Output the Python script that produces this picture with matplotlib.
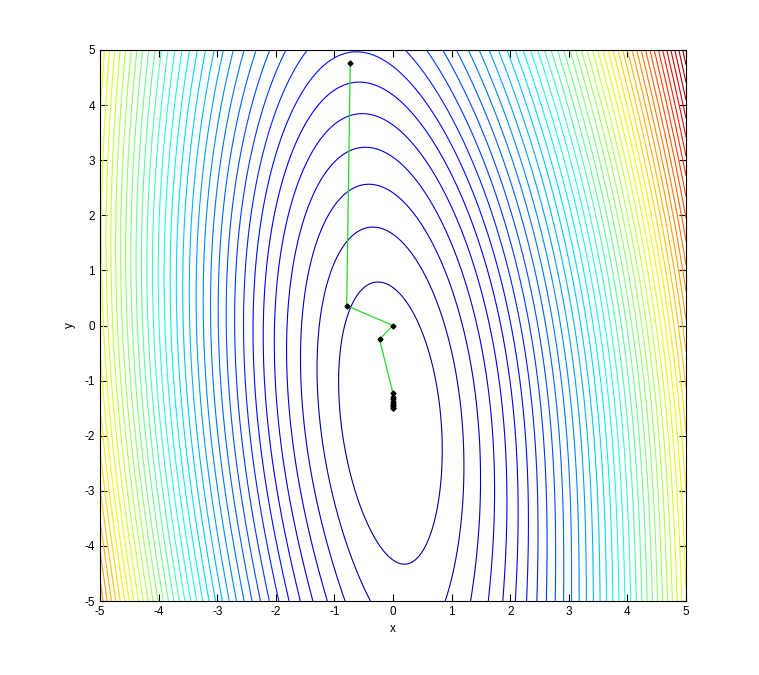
import matplotlib
matplotlib.use("Agg")
import matplotlib.pyplot as plt
import numpy as np

plt.rcParams['font.family'] = ['Liberation Sans', 'DejaVu Sans']
plt.rcParams['axes.unicode_minus'] = False

# surface: f = (x - valley(y))^2 / x_step + g(y), contour levels at 0, 1, 2, ...
x_step = 0.74
valley_x0, valley_y0, valley_slope = -0.03, -1.785, -0.088

# valley profile g(y) in contour steps:
# bottom edge crossing, bottom of innermost contour, centre, tops of nested contours
prof_y = [-5.0, -4.4, -1.75, 0.83, 1.73, 2.51, 3.2, 3.85, 4.44, 4.97]
prof_k = [0.7, 0.0, -0.9, 0.0, 1.0, 2.0, 3.0, 4.0, 5.0, 6.0]
prof_w = [1.0, 3.0, 2.0, 4.0, 2.0, 1.0, 1.0, 1.0, 1.0, 1.0]

# optimiser path
path_x = [-0.73, -0.79, 0.0, -0.23, 0.0, 0.0, 0.0, 0.0, 0.0, 0.0, 0.0, 0.0, 0.0]
path_y = [4.76, 0.36, 0.0, -0.25, -1.23, -1.29, -1.34, -1.38, -1.42, -1.45, -1.47, -1.49, -1.50]

xticks = [-5, -4, -3, -2, -1, 0, 1, 2, 3, 4, 5]
yticks = [-5, -4, -3, -2, -1, 0, 1, 2, 3, 4, 5]

prof = np.poly1d(np.polyfit(prof_y, prof_k, 4, w=prof_w))

xs = np.linspace(-5, 5, 401)
ys = np.linspace(-5, 5, 401)
X, Y = np.meshgrid(xs, ys)
U = X - (valley_x0 + valley_slope * (Y - valley_y0))
Z = U**2 / x_step + prof(Y)
levels = np.arange(0, Z.max(), 1.0)

fig = plt.figure(figsize=(7.59, 6.75), dpi=100)
ax = fig.add_axes([100/759, 1 - 601/675, 586/759, 551/675])

ax.contour(X, Y, Z, levels=levels, cmap='jet', vmin=Z.min(), vmax=Z.max(), linewidths=0.8)
ax.plot(path_x, path_y, color=(0.15, 0.85, 0.15), linewidth=0.9)
ax.plot(path_x, path_y, linestyle='none', marker='D', markersize=2.5, color='black')

ax.set_xlim(-5, 5)
ax.set_ylim(-5, 5)
ax.set_xticks(xticks)
ax.set_yticks(yticks)
ax.tick_params(direction='in', length=5, width=0.8, labelsize=8.5, top=True, right=True)
ax.set_xlabel('x', fontsize=8.5, labelpad=4)
ax.set_ylabel('y', fontsize=8.5, labelpad=6)
for s in ax.spines.values():
    s.set_linewidth(0.8)

fig.savefig('out.png', dpi=100)
